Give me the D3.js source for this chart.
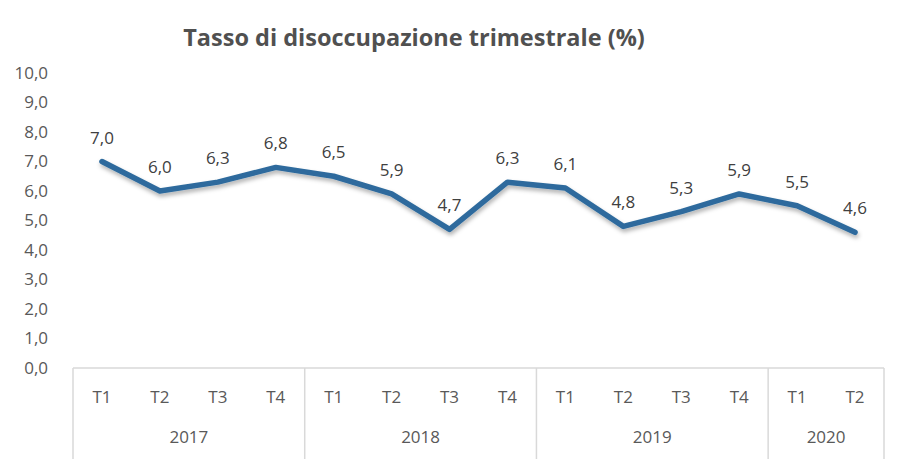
<!DOCTYPE html>
<html>
<head>
<meta charset="utf-8">
<script src="https://cdn.jsdelivr.net/npm/d3@7"></script>
<style>
  body { margin: 0; background: #fff; }
  text { font-family: "Open Sans", "Noto Sans", sans-serif; }
</style>
</head>
<body>
<svg width="908" height="459"></svg>
<script>
// Chart data
const years = ["2017", "2018", "2019", "2020"];
const quarters = ["T1", "T2", "T3", "T4", "T1", "T2", "T3", "T4", "T1", "T2", "T3", "T4", "T1", "T2"];
const quarterYear = ["2017", "2017", "2017", "2017", "2018", "2018", "2018", "2018", "2019", "2019", "2019", "2019", "2020", "2020"];
const rates = [7.0, 6.0, 6.3, 6.8, 6.5, 5.9, 4.7, 6.3, 6.1, 4.8, 5.3, 5.9, 5.5, 4.6];
const yTicks = [0, 1, 2, 3, 4, 5, 6, 7, 8, 9, 10];

const svg = d3.select("svg");
const plotLeft = 73, plotRight = 884, plotTop = 73, plotBottom = 368;
const fmt = v => d3.format(".1f")(v).replace(".", ",");

const x = d3.scaleBand()
  .domain(d3.range(rates.length))
  .range([plotLeft, plotRight]);

const y = d3.scaleLinear()
  .domain([0, 10])
  .range([plotBottom, plotTop]);

// Title
svg.append("text")
  .attr("x", 414)
  .attr("y", 46)
  .attr("text-anchor", "middle")
  .attr("font-size", 23.5)
  .attr("font-weight", "bold")
  .attr("fill", "#505050")
  .text("Tasso di disoccupazione trimestrale (%)");

// Y axis labels (no line)
const yAxis = svg.append("g")
  .attr("transform", `translate(${plotLeft - 25},0)`)
  .call(d3.axisLeft(y).tickValues(yTicks).tickFormat(fmt).tickSize(0).tickPadding(0));
yAxis.select(".domain").remove();
yAxis.selectAll("text")
  .attr("font-size", 17)
  .attr("fill", "#595959")
  .style("font-family", "'Open Sans', 'Noto Sans', sans-serif");

// Category axis box lines
const grid = "#d9d9d9";
svg.append("line")
  .attr("x1", plotLeft).attr("x2", plotRight)
  .attr("y1", y(0)).attr("y2", y(0))
  .attr("stroke", grid).attr("stroke-width", 1.5);

// year separators
const yearStart = years.map(yr => quarterYear.indexOf(yr));
const seps = yearStart.map(i => x(i)).concat([plotRight]);
svg.selectAll(".sep")
  .data(seps)
  .join("line")
  .attr("class", "sep")
  .attr("x1", d => d).attr("x2", d => d)
  .attr("y1", y(0)).attr("y2", 459)
  .attr("stroke", grid).attr("stroke-width", 1.5);

// quarter labels
svg.selectAll(".q")
  .data(quarters)
  .join("text")
  .attr("class", "q")
  .attr("x", (d, i) => x(i) + x.bandwidth() / 2)
  .attr("y", 403)
  .attr("text-anchor", "middle")
  .attr("font-size", 17)
  .attr("fill", "#595959")
  .text(d => d);

// year labels
svg.selectAll(".yr")
  .data(years)
  .join("text")
  .attr("class", "yr")
  .attr("x", (d, i) => {
    const a = x(yearStart[i]);
    const b = i + 1 < years.length ? x(yearStart[i + 1]) : plotRight;
    return (a + b) / 2;
  })
  .attr("y", 443)
  .attr("text-anchor", "middle")
  .attr("font-size", 17)
  .attr("fill", "#595959")
  .text(d => d);

// Line with soft shadow
const defs = svg.append("defs");
const f = defs.append("filter").attr("id", "shadow")
  .attr("x", "-5%").attr("y", "-20%").attr("width", "110%").attr("height", "140%");
f.append("feDropShadow")
  .attr("dx", 1).attr("dy", 3).attr("stdDeviation", 2)
  .attr("flood-color", "#000").attr("flood-opacity", 0.3);

const line = d3.line()
  .x((d, i) => x(i) + x.bandwidth() / 2)
  .y(d => y(d));

svg.append("path")
  .datum(rates)
  .attr("d", line)
  .attr("fill", "none")
  .attr("stroke", "#2e6b9d")
  .attr("stroke-width", 5.5)
  .attr("stroke-linejoin", "round")
  .attr("stroke-linecap", "round")
  .attr("filter", "url(#shadow)");

// Data labels
svg.selectAll(".lbl")
  .data(rates)
  .join("text")
  .attr("class", "lbl")
  .attr("x", (d, i) => x(i) + x.bandwidth() / 2)
  .attr("y", d => y(d) - 18)
  .attr("text-anchor", "middle")
  .attr("font-size", 17)
  .attr("fill", "#404040")
  .text(d => fmt(d));
</script>
</body>
</html>
